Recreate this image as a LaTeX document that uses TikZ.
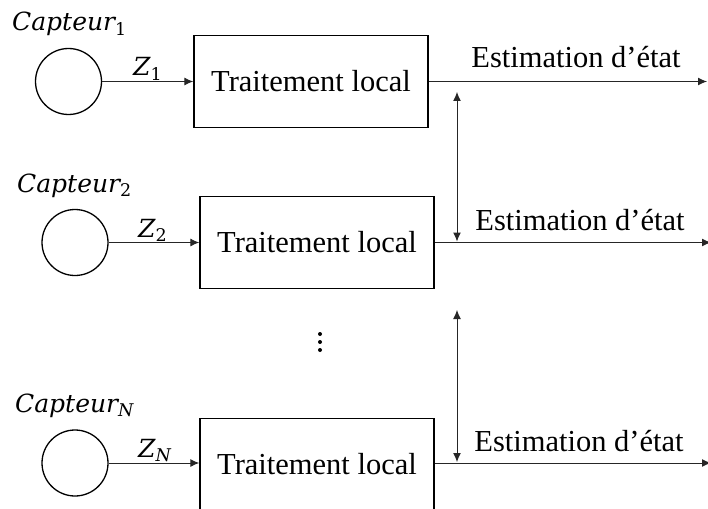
\documentclass[tikz,border=0pt]{standalone}
\usepackage{fontspec}
\setmainfont{Liberation Serif}
\newfontfamily\labfont{DejaVu Serif}
\usetikzlibrary{arrows.meta}
\tikzset{
  sensor/.style={draw=black, line width=1.3pt, circle, minimum size=66pt, inner sep=0pt},
  procbox/.style={draw=black, line width=1.4pt, rectangle, minimum width=234pt, minimum height=92pt, inner sep=0pt,
    font=\fontsize{30.5}{36}\selectfont},
  arr/.style={draw=black!85, line width=1pt, -{Latex[length=9pt,width=8pt]}},
  darr/.style={draw=black!85, line width=1pt, {Latex[length=9pt,width=8pt]}-{Latex[length=9pt,width=8pt]}},
  lab/.style={inner sep=0pt, anchor=base west, font=\labfont\fontsize{25}{30}\selectfont},
  outlab/.style={inner sep=0pt, anchor=base, font=\fontsize{30.5}{36}\selectfont},
  dotmark/.style={fill=black, circle, inner sep=0pt, minimum size=4pt},
}
\newcommand{\subnum}[1]{\textsubscript{#1}}
\begin{document}
\begin{tikzpicture}[x=1pt,y=-1pt]
\useasboundingbox (0,0) rectangle (708,508);
% sensors
\node[sensor] (c1) at (68.5,81.5) {};
\node[sensor] (c2) at (75,242.5) {};
\node[sensor] (c3) at (75,463) {};
% boxes
\node[procbox] (b1) at (311,81.5) {Traitement local};
\node[procbox] (b2) at (317,242.5) {Traitement local};
\node[procbox] (b3) at (317,464.5) {\raisebox{1.5pt}{Traitement local}};
% sensor labels
\node[lab] (l1) at (12,31) {\itshape Capteur\subnum{\upshape 1}};
\node[lab] (l2) at (17,192) {\itshape Capteur\subnum{\upshape 2}};
\node[lab] (l3) at (15,412) {\itshape Capteur\subnum{N}};
% inputs
\draw[arr] (c1) -- (b1);
\draw[arr] (c2) -- (b2);
\draw[arr] (c3) -- (b3.west |- c3);
\node[lab] (z1) at (133,76) {\itshape Z\subnum{\upshape 1}};
\node[lab] (z2) at (138,237) {\itshape Z\subnum{\upshape 2}};
\node[lab] (z3) at (138,457) {\itshape Z\subnum{N}};
% outputs
\coordinate (o1) at (707,81.5);
\coordinate (o2) at (711,242.5);
\coordinate (o3) at (711,463);
\draw[arr] (b1) -- (o1);
\draw[arr] (b2) -- (o2);
\draw[arr] (b3.east |- o3) -- (o3);
\node[outlab] (e1) at (576,68) {Estimation d’état};
\node[outlab] (e2) at (580,230) {Estimation d’état};
\node[outlab] (e3) at (579,451) {Estimation d’état};
% exchanges
\coordinate (v1a) at (457,92);
\coordinate (v1b) at (457,241.5);
\coordinate (v2a) at (457,310);
\coordinate (v2b) at (457,462);
\draw[darr] (v1a) -- (v1b);
\draw[darr] (v2a) -- (v2b);
% dots
\node[dotmark] (d1) at (320,334) {};
\node[dotmark] (d2) at (320,342) {};
\node[dotmark] (d3) at (320,350) {};
\end{tikzpicture}
\end{document}
